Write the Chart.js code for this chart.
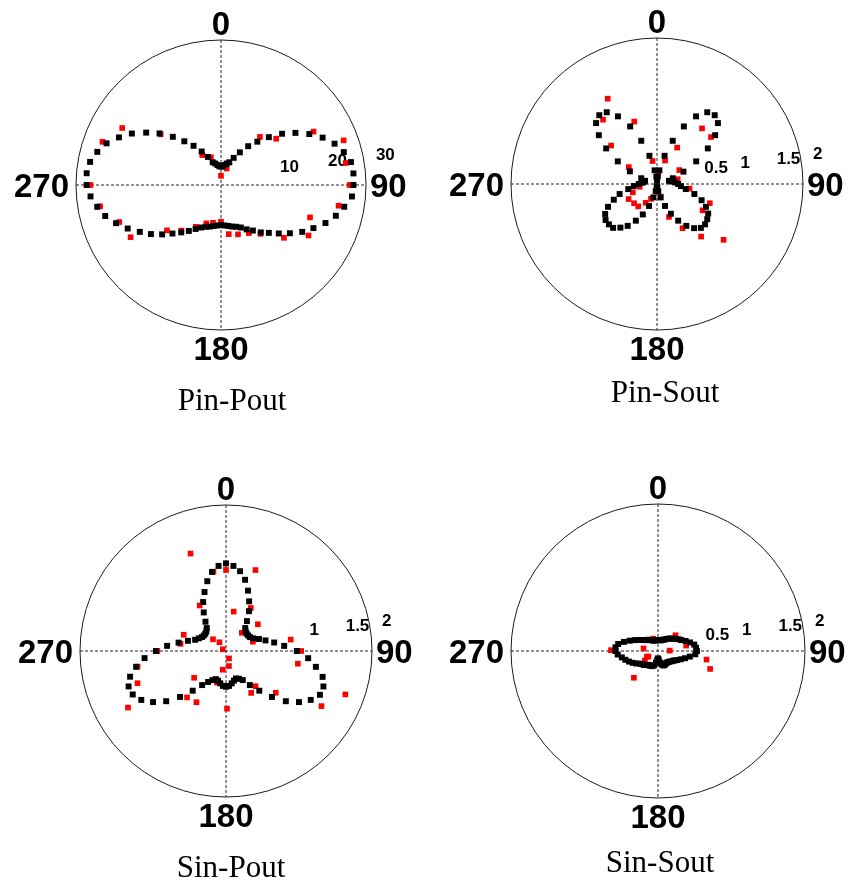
<!DOCTYPE html>
<html>
<head>
<meta charset="utf-8">
<script src="https://cdn.jsdelivr.net/npm/chart.js@4.4.1/dist/chart.umd.min.js"></script>
<style>
  html, body { margin: 0; padding: 0; background: #fff; }
  body { width: 849px; height: 883px; position: relative; overflow: hidden; }
  canvas { position: absolute; }
</style>
</head>
<body>
<canvas id="c1"></canvas>
<canvas id="c2"></canvas>
<canvas id="c3"></canvas>
<canvas id="c4"></canvas>
<script>
// Polarization angle (deg, clockwise from 0 at the top) of the fitted curves
const ANGLES = [0,5,10,15,20,25,30,35,40,45,50,55,60,65,70,75,80,85,90,95,100,105,110,115,
  120,125,130,135,140,145,150,155,160,165,170,175,180,185,190,195,200,205,210,215,220,225,230,235,
  240,245,250,255,260,265,270,275,280,285,290,295,300,305,310,315,320,325,330,335,340,345,350,355];

const COMPASS = ['0', '90', '180', '270'];

// Pin-Pout: fitted SHG intensity and measured points
const pinPoutFit = [3.8,3.9,4.2,4.6,5.0,6.2,7.8,9.8,11.7,14.0,16.5,18.8,21.1,23.2,25.0,26.3,27.3,27.5,
  27.4,27.2,25.9,24.6,23.0,21.1,19.4,17.4,15.6,14.0,12.8,11.5,10.6,9.7,9.2,8.9,8.6,8.4,
  8.3,8.4,8.6,8.9,9.2,9.7,10.5,11.6,12.8,14.2,15.9,17.7,19.4,21.3,23.1,24.8,26.0,27.1,
  27.8,27.9,27.5,26.5,25.2,23.3,21.3,18.9,16.6,14.1,11.8,9.9,8.0,6.4,5.0,4.6,4.2,3.9];
const pinPoutMeasAngle = [300,290,310,328,340,19,0,39,50,60,70,80,90,270,260,250,240,230,221,211,
  201,192,180,171,161,150,141,130,120,110,100];
const pinPoutMeas = [23.6,26.1,16.3,7.3,6.1,3.6,1.9,12.8,14.9,22.1,27.0,26.2,26.6,27.0,25.4,22.4,21.6,14.6,12.5,10.1,
  8.5,8.0,7.6,10.3,10.8,11.5,13.0,17.0,20.9,19.6,24.7];
const pinPoutTicks = [10, 20, 30];

// Pin-Sout
const pinSoutFit = [0.05,0.10,0.19,0.40,0.63,0.87,1.07,1.20,1.23,1.18,1.04,0.85,0.62,0.40,0.23,0.17,0.20,0.25,
  0.29,0.33,0.40,0.53,0.65,0.74,0.81,0.84,0.86,0.85,0.79,0.70,0.58,0.45,0.32,0.19,0.10,0.05,
  0.03,0.05,0.10,0.19,0.32,0.46,0.58,0.70,0.78,0.85,0.86,0.86,0.82,0.74,0.63,0.53,0.40,0.32,
  0.25,0.20,0.18,0.17,0.23,0.41,0.62,0.85,1.04,1.18,1.23,1.20,1.07,0.87,0.63,0.40,0.19,0.10];
const pinSoutMeasAngle = [330,320,340,310,301,349,19,29,39,49,58,8,77,261,251,242,230,220,211,202,
  164,98,110,120,160,150,140,130];
const pinSoutMeas = [1.35,1.15,0.91,0.82,0.45,0.32,0.34,0.57,0.98,0.98,0.36,0.12,0.29,0.24,0.35,0.44,0.41,0.40,0.30,0.22,
  0.18,0.45,0.77,0.72,0.48,0.70,0.94,1.19];
const pinSoutTicks = [0.5, 1, 1.5, 2];

// Sin-Pout
const sinPoutFit = [1.20,1.17,1.11,1.01,0.88,0.75,0.63,0.50,0.41,0.38,0.37,0.37,0.38,0.41,0.48,0.56,0.67,0.80,
  0.97,1.13,1.25,1.37,1.42,1.42,1.34,1.22,1.07,0.89,0.71,0.57,0.46,0.42,0.40,0.42,0.45,0.48,
  0.49,0.48,0.45,0.42,0.41,0.44,0.49,0.57,0.71,0.89,1.07,1.22,1.34,1.41,1.42,1.36,1.25,1.12,
  0.96,0.81,0.66,0.54,0.45,0.41,0.38,0.37,0.37,0.38,0.41,0.49,0.61,0.74,0.86,0.99,1.10,1.17];
const sinPoutMeasAngle = [340,0,20,330,11,30,50,41,71,80,90,100,291,279,312,323,299,158,169,190,
  196,230,260,250,240,220,210,179,149,140,130,120,110,270,351];
const sinPoutMeas = [1.42,1.11,1.18,0.72,0.55,0.68,0.57,0.33,0.39,0.90,1.03,1.00,0.62,0.63,0.24,0.15,0.05,0.11,0.21,0.26,
  0.45,0.57,1.23,1.29,1.55,0.83,0.81,0.79,0.67,0.63,0.89,1.51,1.74,0.94,1.10];
const sinPoutTicks = [1, 1.5, 2];

// Sin-Sout
const sinSoutFit = [0.15,0.15,0.15,0.15,0.16,0.17,0.18,0.20,0.22,0.24,0.26,0.29,0.32,0.35,0.40,0.45,0.50,0.52,
  0.53,0.51,0.44,0.38,0.33,0.29,0.26,0.24,0.22,0.21,0.20,0.20,0.20,0.21,0.21,0.19,0.16,0.12,
  0.10,0.12,0.16,0.20,0.22,0.22,0.23,0.23,0.25,0.27,0.28,0.30,0.34,0.38,0.42,0.46,0.50,0.55,
  0.58,0.58,0.55,0.48,0.41,0.35,0.30,0.26,0.23,0.21,0.20,0.18,0.17,0.16,0.15,0.15,0.15,0.15];
const sinSoutMeasAngle = [271,339,48,64,79,280,240,234,88,120,100,109,222,152,243];
const sinSoutMeas = [0.64,0.18,0.32,0.35,0.39,0.20,0.15,0.22,0.16,0.25,0.67,0.75,0.49,0.20,0.17];
const sinSoutTicks = [0.5, 1, 1.5, 2];

// polar (angle, radius) -> cartesian points for a scatter dataset
function polarPoints(angles, radii) {
  return radii.map((r, i) => {
    const t = angles[i] * Math.PI / 180;
    return { x: r * Math.sin(t), y: r * Math.cos(t) };
  });
}

// Draws the polar frame: outer ring, dotted cross, angle labels, radial ticks and caption
const polarFrame = {
  id: 'polarFrame',
  beforeDatasetsDraw(chart, args, o) {
    const ctx = chart.ctx, xs = chart.scales.x, ys = chart.scales.y;
    const cx = xs.getPixelForValue(0), cy = ys.getPixelForValue(0);
    const R = xs.getPixelForValue(o.rMax) - cx;
    ctx.save();
    ctx.strokeStyle = '#1a1a1a';
    ctx.lineWidth = 1;
    ctx.beginPath();
    ctx.arc(cx, cy, R, 0, Math.PI * 2);
    ctx.stroke();

    ctx.setLineDash([3, 2]);
    ctx.strokeStyle = '#222';
    ctx.beginPath();
    ctx.moveTo(cx - R, cy); ctx.lineTo(cx + R, cy);
    ctx.moveTo(cx, cy - R); ctx.lineTo(cx, cy + R);
    ctx.stroke();
    ctx.setLineDash([]);

    ctx.fillStyle = '#000';
    ctx.font = 'bold 33px "Liberation Sans", Arial, sans-serif';
    ctx.textBaseline = 'alphabetic';
    ctx.textAlign = 'center';
    ctx.fillText(COMPASS[0], cx, cy - R - 5);
    ctx.fillText(COMPASS[2], cx, cy + R + 30);
    ctx.textAlign = 'left';
    ctx.fillText(COMPASS[1], cx + R + 4, cy + 12);
    ctx.textAlign = 'right';
    ctx.fillText(COMPASS[3], cx - R - 7, cy + 12);

    ctx.font = 'bold 17px "Liberation Sans", Arial, sans-serif';
    ctx.textAlign = 'left';
    const tilt = 7 * Math.PI / 180;
    o.ticks.forEach(v => {
      const d = xs.getPixelForValue(v) - cx;
      ctx.fillText(String(v), cx + d * Math.cos(tilt) + 11, cy - d * Math.sin(tilt) - 7);
    });

    ctx.font = '31px "Liberation Serif", "Times New Roman", serif';
    ctx.textAlign = 'center';
    ctx.fillText(o.title, cx + o.titleDx, cy + o.titleDy);
    ctx.restore();
  }
};

const PANELS = [
  { id: 'c1', left: 0,   top: 0,   w: 436, h: 440, cx: 221, cy: 185, R: 145, rMax: 30,
    fit: pinPoutFit, measA: pinPoutMeasAngle, meas: pinPoutMeas, ticks: pinPoutTicks, title: 'Pin-Pout', tdx: 11, tdy: 225 },
  { id: 'c2', left: 436, top: 0,   w: 413, h: 440, cx: 657, cy: 184, R: 146, rMax: 2,
    fit: pinSoutFit, measA: pinSoutMeasAngle, meas: pinSoutMeas, ticks: pinSoutTicks, title: 'Pin-Sout', tdx: 8, tdy: 218 },
  { id: 'c3', left: 0,   top: 440, w: 436, h: 443, cx: 226, cy: 651, R: 146, rMax: 2,
    fit: sinPoutFit, measA: sinPoutMeasAngle, meas: sinPoutMeas, ticks: sinPoutTicks, title: 'Sin-Pout', tdx: 5, tdy: 226 },
  { id: 'c4', left: 436, top: 440, w: 413, h: 443, cx: 658, cy: 651, R: 147, rMax: 2,
    fit: sinSoutFit, measA: sinSoutMeasAngle, meas: sinSoutMeas, ticks: sinSoutTicks, title: 'Sin-Sout', tdx: 2, tdy: 221 }
];

PANELS.forEach(p => {
  const cv = document.getElementById(p.id);
  cv.width = p.w; cv.height = p.h;
  cv.style.left = p.left + 'px'; cv.style.top = p.top + 'px';
  cv.style.width = p.w + 'px'; cv.style.height = p.h + 'px';
  const pad = {
    left: p.cx - p.R - p.left,
    right: p.left + p.w - (p.cx + p.R),
    top: p.cy - p.R - p.top,
    bottom: p.top + p.h - (p.cy + p.R)
  };
  new Chart(cv, {
    type: 'scatter',
    data: {
      datasets: [
        { label: 'fit', data: polarPoints(ANGLES, p.fit), pointStyle: 'rect', pointRadius: 4.2,
          pointHoverRadius: 4.2, pointBorderWidth: 0, backgroundColor: '#000', borderColor: '#000' },
        { label: 'data', data: polarPoints(p.measA, p.meas), pointStyle: 'rect', pointRadius: 4,
          pointHoverRadius: 4, pointBorderWidth: 0, backgroundColor: '#ff0000', borderColor: '#ff0000' }
      ]
    },
    options: {
      responsive: false,
      animation: false,
      devicePixelRatio: 1,
      clip: false,
      layout: { padding: pad },
      scales: {
        x: { type: 'linear', min: -p.rMax, max: p.rMax, display: false },
        y: { type: 'linear', min: -p.rMax, max: p.rMax, display: false }
      },
      plugins: {
        legend: { display: false },
        tooltip: { enabled: false },
        polarFrame: { rMax: p.rMax, ticks: p.ticks, title: p.title, titleDx: p.tdx, titleDy: p.tdy }
      }
    },
    plugins: [polarFrame]
  });
});
</script>
</body>
</html>
